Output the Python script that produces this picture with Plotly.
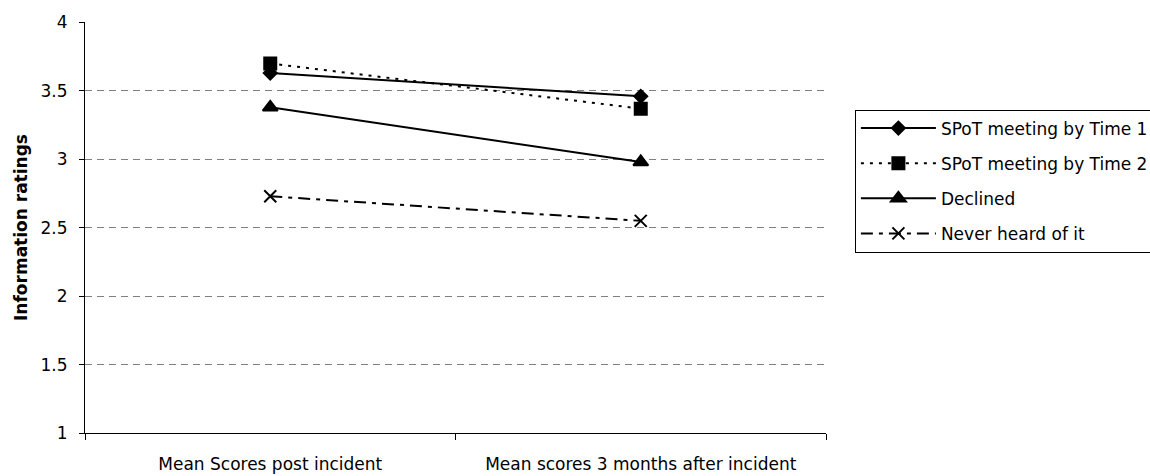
import plotly.graph_objects as go

# Time points and mean information ratings per group
timepoints = ["Mean Scores post incident", "Mean scores 3 months after incident"]
spot_time1 = [3.63, 3.46]
spot_time2 = [3.70, 3.37]
declined = [3.38, 2.98]
never_heard = [2.73, 2.55]

series = [
    ("SPoT meeting by Time 1", spot_time1, "solid", "diamond", 10),
    ("SPoT meeting by Time 2", spot_time2, "3px,6px", "square", 12),
    ("Declined", declined, "solid", "triangle-up", 13),
    ("Never heard of it", never_heard, "12px,6px,4px,6px", "x-thin-open", 12),
]

FONT = "Tahoma, DejaVu Sans, sans-serif"
FS = 17

fig = go.Figure()
for i, (name, vals, dash, symbol, size) in enumerate(series):
    fig.add_trace(go.Scatter(
        x=timepoints, y=vals, name=name, mode="lines+markers",
        legendgroup=f"g{i}",
        line=dict(color="black", width=2, dash=dash),
        marker=dict(symbol=symbol, size=size, color="black",
                    line=dict(color="black", width=2)),
    ))

fig.update_layout(
    width=1150, height=476,
    margin=dict(l=85, r=324, t=22, b=43, autoexpand=False),
    paper_bgcolor="white", plot_bgcolor="white",
    font=dict(family=FONT, size=FS, color="black"),
    showlegend=True,
    legend=dict(
        x=1.039, y=0.787, xanchor="left", yanchor="top",
        bordercolor="black", borderwidth=1, bgcolor="white",
        tracegroupgap=10, itemwidth=75,
        font=dict(family=FONT, size=FS, color="black"),
    ),
    xaxis=dict(
        type="category", tickson="boundaries",
        ticks="outside", ticklen=6, tickcolor="black",
        ticklabelstandoff=16, automargin=False,
        showline=True, linecolor="black", linewidth=1,
        showgrid=False, range=[-0.5, 1.5],
    ),
    yaxis=dict(
        range=[1, 4.003], tick0=1, dtick=0.5,
        ticks="outside", ticklen=5, tickcolor="black",
        ticklabelstandoff=8, automargin=False,
        showline=True, linecolor="black", linewidth=1,
        showgrid=True, gridcolor="#808080", griddash="7px,5px", gridwidth=1,
        zeroline=False,
        title=dict(text="<b>Information ratings</b>", standoff=8,
                   font=dict(family=FONT, size=FS)),
    ),
)

fig.write_html("out.html")
